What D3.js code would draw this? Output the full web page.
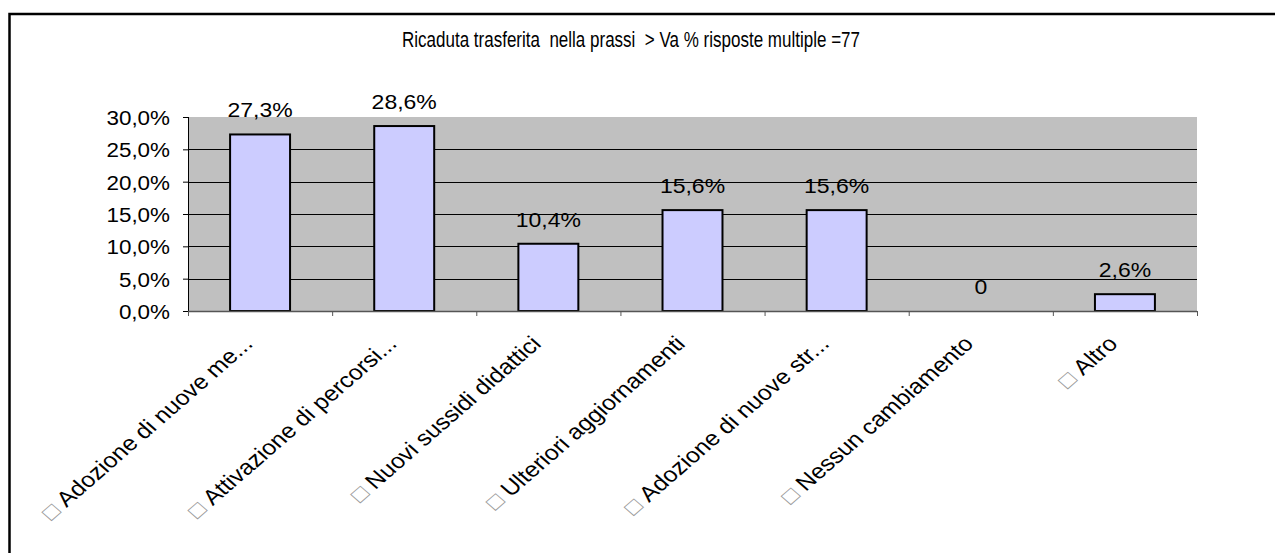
<!DOCTYPE html>
<html>
<head>
<meta charset="utf-8">
<script src="https://cdn.jsdelivr.net/npm/d3@7"></script>
<style>
  body { margin: 0; background: #fff; }
  svg { display: block; font-family: "Liberation Sans", Arial, sans-serif; }
</style>
</head>
<body>
<svg width="1275" height="553"></svg>
<script>
// data
let categories = ["Adozione di nuove me...", "Attivazione di percorsi...", "Nuovi sussidi didattici",
                  "Ulteriori aggiornamenti", "Adozione di nuove str...", "Nessun cambiamento", "Altro"];
let values = [27.3, 28.6, 10.4, 15.6, 15.6, 0, 2.6];
let valueLabels = ["27,3%", "28,6%", "10,4%", "15,6%", "15,6%", "0", "2,6%"];
let yTicks = [0, 5, 10, 15, 20, 25, 30];
let title = "Ricaduta trasferita  nella prassi  > Va % risposte multiple =77";

let plot = {left: 188, top: 117, right: 1197, bottom: 311};
let sx = 1.15; // the text in the picture is a bit stretched sideways

let it = d3.formatLocale({decimal: ",", thousands: ".", grouping: [3], currency: ["€", ""]});
let fmt = it.format(".1f");

var svg = d3.select("svg");

// outer frame (right and bottom edges run off the picture)
svg.append("rect")
   .attr("x", 9.5).attr("y", 14)
   .attr("width", 1400).attr("height", 700)
   .attr("fill", "none").attr("stroke", "#000").attr("stroke-width", 2.5);

svg.append("text")
   .attr("x", 402).attr("y", 47)
   .attr("font-size", 22)
   .attr("textLength", 458).attr("lengthAdjust", "spacingAndGlyphs")
   .style("white-space", "pre")
   .text(title);

var y = d3.scaleLinear().domain([0, 30]).range([plot.bottom, plot.top]);
var x = d3.scaleBand().domain(categories).range([plot.left, plot.right])
          .paddingInner(0.584).paddingOuter(0.292);
var xEdge = d3.scaleLinear().domain([0, categories.length]).range([plot.left, plot.right]);

// plot background
svg.append("rect")
   .attr("x", plot.left).attr("y", plot.top)
   .attr("width", plot.right - plot.left).attr("height", plot.bottom - plot.top)
   .attr("fill", "#c0c0c0");

// gridlines
svg.append("g").selectAll("line")
   .data(yTicks.filter(d => d > 0 && d < 30))
   .join("line")
   .attr("x1", plot.left).attr("x2", plot.right)
   .attr("y1", d => Math.round(y(d)) + 0.5).attr("y2", d => Math.round(y(d)) + 0.5)
   .attr("stroke", "#000").attr("stroke-width", 1);

// bars
svg.append("g").selectAll("rect")
   .data(values)
   .join("rect")
   .attr("x", (d, i) => x(categories[i]))
   .attr("y", d => y(d))
   .attr("width", x.bandwidth())
   .attr("height", d => y(0) - y(d))
   .attr("fill", "#ccccff")
   .attr("stroke", d => d > 0 ? "#000" : "none")
   .attr("stroke-width", 2);

// value labels
svg.append("g").selectAll("text")
   .data(values)
   .join("text")
   .attr("transform", (d, i) => "translate(" + (x(categories[i]) + x.bandwidth() / 2) + "," + (y(d) - 17) + ") scale(" + sx + ",1)")
   .attr("text-anchor", "middle")
   .attr("font-size", 20)
   .text((d, i) => valueLabels[i]);

// y axis
var yAxis = svg.append("g")
   .attr("transform", "translate(" + plot.left + ",0)")
   .call(d3.axisLeft(y).tickValues(yTicks).tickSize(5).tickFormat(""));
yAxis.select(".domain").attr("stroke", "#000").attr("d", "M0.5," + plot.top + "V" + (plot.bottom + 5));
yAxis.selectAll(".tick line").attr("stroke", "#000");

svg.append("g").selectAll("text")
   .data(yTicks)
   .join("text")
   .attr("transform", d => "translate(170," + (y(d) + 8) + ") scale(" + sx + ",1)")
   .attr("text-anchor", "end")
   .attr("font-size", 19.5)
   .text(d => fmt(d) + "%");

// x axis: ticks between categories
var xAxis = svg.append("g")
   .attr("transform", "translate(0," + plot.bottom + ")")
   .call(d3.axisBottom(xEdge).tickValues(d3.range(categories.length + 1)).tickSize(5).tickFormat(""));
xAxis.select(".domain").attr("stroke", "#555").attr("stroke-width", 1.5).attr("d", "M" + plot.left + ",0.5H" + plot.right);
xAxis.selectAll(".tick line").attr("stroke", "#555");

// rotated category labels
var lab = svg.append("g").selectAll("text")
   .data(categories)
   .join("text")
   .attr("transform", d => "translate(" + (x(d) + x.bandwidth() / 2 - 6) + "," + (plot.bottom + 34) + ") scale(" + sx + ",1) rotate(-45)")
   .attr("text-anchor", "end")
   .attr("font-size", 21.5)
   .style("white-space", "pre");
lab.append("tspan").attr("fill", "#999").attr("font-size", 21).text("□");
lab.append("tspan").attr("fill", "#000").text(d => "\u00a0" + d);
</script>
</body>
</html>
